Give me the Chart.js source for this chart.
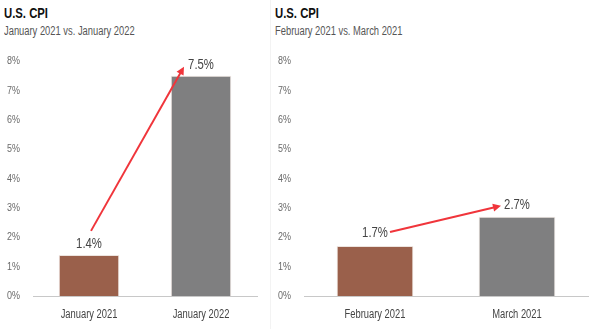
<!DOCTYPE html>
<html>
<head>
<meta charset="utf-8">
<script src="https://cdn.jsdelivr.net/npm/chart.js@4"></script>
<style>
  html, body { margin:0; padding:0; background:#fff; }
  body { width:600px; height:329px; position:relative; overflow:hidden;
         font-family:'Liberation Sans', Arial, sans-serif; }
  .panel { position:absolute; top:0; height:329px; }
  .panel h1, .panel h2 { position:absolute; left:4px; margin:0; white-space:nowrap;
         transform:scaleX(0.78); transform-origin:0 50%; }
  .panel h1 { top:5px; font-size:14.5px; font-weight:bold; color:#111; }
  .panel h2 { top:24px; font-size:12px; font-weight:normal; color:#555; }
  .panel canvas { position:absolute; left:0; top:50px; }
  #p1 { left:0; width:270px; }
  #p2 { left:270px; width:330px; border-left:1px solid #f3f3f3; }
</style>
</head>
<body>
<div class="panel" id="p1">
  <h1>U.S. CPI</h1>
  <h2>January 2021 vs. January 2022</h2>
  <canvas id="c1"></canvas>
</div>
<div class="panel" id="p2">
  <h1>U.S. CPI</h1>
  <h2>February 2021 vs. March 2021</h2>
  <canvas id="c2"></canvas>
</div>
<script>
// CPI year-over-year, percent
const labelsYoY = ['January 2021', 'January 2022'];
const valuesYoY = [1.4, 7.5];
const labelsMoM = ['February 2021', 'March 2021'];
const valuesMoM = [1.7, 2.7];
const yTicks = [0, 1, 2, 3, 4, 5, 6, 7, 8];

const FONT = "'Liberation Sans', Arial, sans-serif";
const SX = 0.78; // squeeze Liberation Sans into a narrow face
const barColors = ['#9a604b', '#7f7f80'];

function narrowText(ctx, text, x, y, align){
  ctx.save();
  ctx.translate(x, y);
  ctx.scale(SX, 1);
  ctx.textAlign = align;
  ctx.textBaseline = 'middle';
  ctx.fillText(text, 0, 0);
  ctx.restore();
}

// tick labels drawn by hand so they can use the narrow face
const narrowTicks = {
  id: 'narrowTicks',
  afterDraw(chart){
    const ctx = chart.ctx, area = chart.chartArea;
    const xs = chart.scales.x, ys = chart.scales.y;
    ctx.save();
    ctx.font = '11.5px ' + FONT;
    ctx.fillStyle = '#6a6a6a';
    yTicks.forEach(v=> narrowText(ctx, v + '%', area.left - 13, ys.getPixelForValue(v), 'right'));
    ctx.font = '12px ' + FONT;
    ctx.fillStyle = '#444';
    chart.data.labels.forEach((lab, i)=> narrowText(ctx, lab, xs.getPixelForValue(i), area.bottom + 19, 'center'));
    ctx.restore();
  }
};

// value labels + red arrow from first bar to second bar
const arrowPlugin = {
  id: 'cpiArrow',
  afterDatasetsDraw(chart, args, opts){
    const ctx = chart.ctx;
    const meta = chart.getDatasetMeta(0);
    const data = chart.data.datasets[0].data;
    ctx.save();
    ctx.font = '14.5px ' + FONT;
    ctx.fillStyle = '#444';
    meta.data.forEach((bar, i)=>{
      narrowText(ctx, data[i].toFixed(1) + '%', bar.x, bar.y - opts.labelGap[i], 'center');
    });
    const b0 = meta.data[0], b1 = meta.data[1];
    const x0 = b0.x + opts.start[0], y0 = b0.y + opts.start[1];
    const x1 = b1.x + opts.end[0], y1 = b1.y + opts.end[1];
    const ang = Math.atan2(y1 - y0, x1 - x0);
    const head = 8;
    ctx.strokeStyle = '#f0353b';
    ctx.fillStyle = '#f0353b';
    ctx.lineWidth = 2;
    ctx.beginPath();
    ctx.moveTo(x0, y0);
    ctx.lineTo(x1 - Math.cos(ang)*head*0.8, y1 - Math.sin(ang)*head*0.8);
    ctx.stroke();
    ctx.beginPath();
    ctx.moveTo(x1, y1);
    ctx.lineTo(x1 - head*Math.cos(ang) + 4*Math.sin(ang), y1 - head*Math.sin(ang) - 4*Math.cos(ang));
    ctx.lineTo(x1 - head*Math.cos(ang) - 4*Math.sin(ang), y1 - head*Math.sin(ang) + 4*Math.cos(ang));
    ctx.closePath();
    ctx.fill();
    ctx.restore();
  }
};

function makeChart(id, width, labels, values, arrowOpts){
  const cv = document.getElementById(id);
  cv.width = width; cv.height = 279;
  cv.style.width = width + 'px'; cv.style.height = '279px';
  return new Chart(cv, {
    type: 'bar',
    data: {
      labels: labels,
      datasets: [{
        data: values,
        backgroundColor: barColors,
        borderColor: 'rgba(235,225,220,0.9)',
        borderWidth: 1,
        categoryPercentage: 1,
        barPercentage: 0.54
      }]
    },
    options: {
      responsive: false,
      animation: false,
      devicePixelRatio: 1,
      layout: { padding: { top: 11, right: 13, left: 0, bottom: 0 } },
      plugins: {
        legend: { display: false },
        tooltip: { enabled: false },
        cpiArrow: arrowOpts
      },
      scales: {
        x: {
          grid: { display: false, drawTicks: false },
          border: { display: true, color: '#c8c8c8', width: 1 },
          ticks: { display: false },
          afterFit(s){ s.height = 33; s.paddingLeft = s.paddingRight = 0; }
        },
        y: {
          min: 0, max: 8,
          grid: { display: false, drawTicks: false },
          border: { display: false },
          ticks: { display: false },
          afterFit(s){ s.width = 33; s.paddingTop = s.paddingBottom = 0; }
        }
      }
    },
    plugins: [arrowPlugin, narrowTicks]
  });
}

makeChart('c1', 270, labelsYoY, valuesYoY,
  { start: [2, -24], end: [-17, -9], labelGap: [11, 11] });
makeChart('c2', 330, labelsMoM, valuesMoM,
  { start: [15, -14], end: [-16, -11], labelGap: [13, 12] });
</script>
</body>
</html>
